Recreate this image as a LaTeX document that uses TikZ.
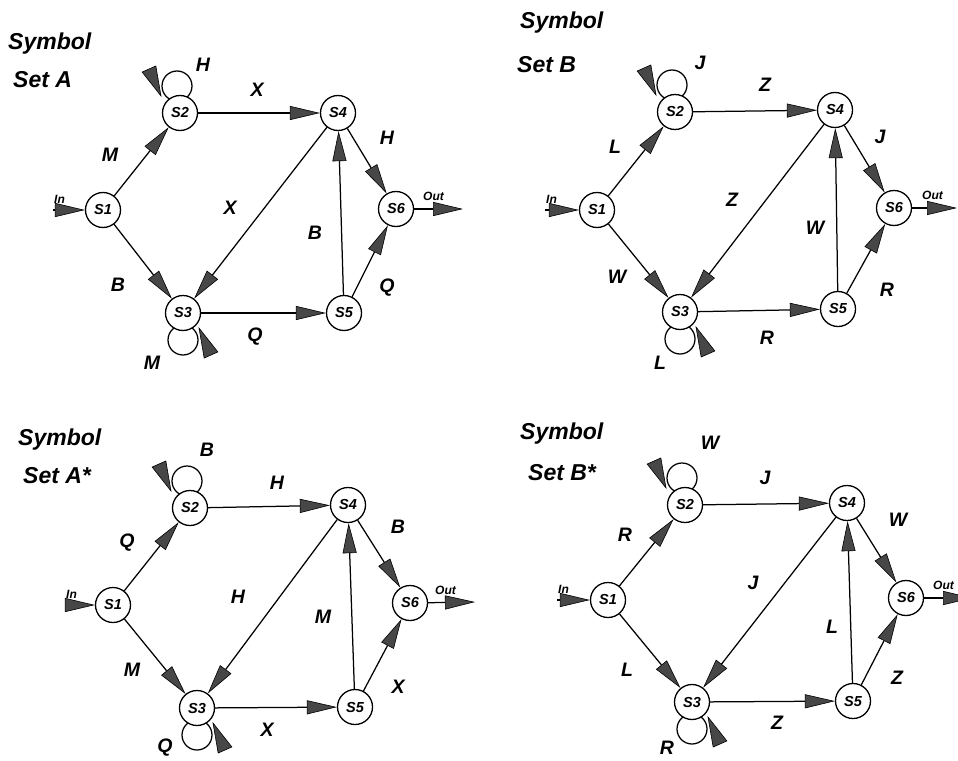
\documentclass[tikz,border=0pt]{standalone}
\usepackage{fontspec}
\setmainfont{Liberation Sans}
\usetikzlibrary{arrows.meta,calc}
\tikzset{
  x=1pt,y=-1pt,
  state/.style={circle,draw,fill=white,line width=1.3pt,minimum size=35pt,inner sep=0pt,font=\fontsize{14.5}{14.5}\selectfont\bfseries\itshape},
  edge/.style={line width=1.25pt,-{Triangle[length=30pt,width=14pt,fill=black!72,line width=0.6pt]}},
  lbl/.style={font=\fontsize{19.5}{19.5}\selectfont\bfseries\itshape,inner sep=0pt},
  ttl/.style={font=\fontsize{23}{23}\selectfont\bfseries\itshape,inner sep=0pt,anchor=base west},
  io/.style={font=\fontsize{12}{12}\selectfont\bfseries\itshape,inner sep=0pt,anchor=base west},
  loopline/.style={line width=1.25pt},
  tri/.style={fill=black!72,draw=black,line width=0.6pt},
}
\newcommand\loopup[1]{%
  \draw[loopline] ($(#1)+(-3,-27)$) circle (15pt);
  \coordinate (#1t) at ($(#1)+(-19,-17)$);
  \coordinate (#1b) at ($(#1)+(-31,-44)$);
  \filldraw[tri] (#1t) -- ($(#1b)!7.5pt!90:(#1t)$) -- ($(#1b)!7.5pt!-90:(#1t)$) -- cycle;}
\newcommand\loopdown[1]{%
  \draw[loopline] ($(#1)+(0,27)$) circle (15pt);
  \coordinate (#1t) at ($(#1)+(16,15)$);
  \coordinate (#1b) at ($(#1)+(28,42)$);
  \filldraw[tri] (#1t) -- ($(#1b)!7.5pt!90:(#1t)$) -- ($(#1b)!7.5pt!-90:(#1t)$) -- cycle;}
\begin{document}
\begin{tikzpicture}
\useasboundingbox (0,0) rectangle (958,760);
\clip (0,0) rectangle (958,760);
\fill[white] (0,0) rectangle (958,760);

% ===== Set A =====
\coordinate (A1c) at (103,210);
\coordinate (A2c) at (180,113);
\coordinate (A3c) at (183,313);
\coordinate (A4c) at (338,113);
\coordinate (A5c) at (344,313);
\coordinate (A6c) at (396,209);
\loopup{A2c}
\loopdown{A3c}
\node[state] (A1) at (A1c) {S1};
\node[state] (A2) at (A2c) {S2};
\node[state] (A3) at (A3c) {S3};
\node[state] (A4) at (A4c) {S4};
\node[state] (A5) at (A5c) {S5};
\node[state] (A6) at (A6c) {S6};
\coordinate (Ain) at (53,210);
\coordinate (Aout) at (463,209);
\draw[edge] (Ain) -- (A1);
\draw[edge] (A1) -- (A2);
\draw[edge] (A1) -- (A3);
\draw[edge] (A2) -- (A4);
\draw[edge] (A4) -- (A3);
\draw[edge] (A3) -- (A5);
\draw[edge] (A5) -- (A4);
\draw[edge] (A4) -- (A6);
\draw[edge] (A5) -- (A6);
\draw[edge] (A6) -- (Aout);
\node[io] (Ainl) at (54,203) {In};
\node[io] (Aoutl) at (423,200) {Out};
\node[ttl] (At1) at (8,50) {Symbol};
\node[ttl] (At2) at (13,88) {Set A};
\node[lbl] (Al1) at (110,155) {M};
\node[lbl] (Al2) at (118,285) {B};
\node[lbl] (Al3) at (257,90) {X};
\node[lbl] (Al4) at (203,65) {H};
\node[lbl] (Al5) at (230,208) {X};
\node[lbl] (Al6) at (387,138) {H};
\node[lbl] (Al7) at (315,233) {B};
\node[lbl] (Al8) at (387,288) {Q};
\node[lbl] (Al9) at (255,337) {Q};
\node[lbl] (Al10) at (152,363) {M};

% ===== Set B =====
\coordinate (B1c) at (597,210);
\coordinate (B2c) at (675,112);
\coordinate (B3c) at (680,312);
\coordinate (B4c) at (835,110);
\coordinate (B5c) at (838,309);
\coordinate (B6c) at (894,208);
\loopup{B2c}
\loopdown{B3c}
\node[state] (B1) at (B1c) {S1};
\node[state] (B2) at (B2c) {S2};
\node[state] (B3) at (B3c) {S3};
\node[state] (B4) at (B4c) {S4};
\node[state] (B5) at (B5c) {S5};
\node[state] (B6) at (B6c) {S6};
\coordinate (Bin) at (545,210);
\coordinate (Bout) at (957,208);
\draw[edge] (Bin) -- (B1);
\draw[edge] (B1) -- (B2);
\draw[edge] (B1) -- (B3);
\draw[edge] (B2) -- (B4);
\draw[edge] (B4) -- (B3);
\draw[edge] (B3) -- (B5);
\draw[edge] (B5) -- (B4);
\draw[edge] (B4) -- (B6);
\draw[edge] (B5) -- (B6);
\draw[edge] (B6) -- (Bout);
\node[io] (Binl) at (546,203) {In};
\node[io] (Boutl) at (922,199) {Out};
\node[ttl] (Bt1) at (520,29) {Symbol};
\node[ttl] (Bt2) at (517,72) {Set B};
\node[lbl] (Bl1) at (615,147) {L};
\node[lbl] (Bl2) at (617,277) {W};
\node[lbl] (Bl3) at (765,85) {Z};
\node[lbl] (Bl4) at (700,63) {J};
\node[lbl] (Bl5) at (732,200) {Z};
\node[lbl] (Bl6) at (880,137) {J};
\node[lbl] (Bl7) at (815,228) {W};
\node[lbl] (Bl8) at (887,290) {R};
\node[lbl] (Bl9) at (767,338) {R};
\node[lbl] (Bl10) at (660,363) {L};

% ===== Set A* =====
\coordinate (C1c) at (113,605);
\coordinate (C2c) at (190,508);
\coordinate (C3c) at (197,708);
\coordinate (C4c) at (348,505);
\coordinate (C5c) at (355,707);
\coordinate (C6c) at (410,603);
\loopup{C2c}
\loopdown{C3c}
\node[state] (C1) at (C1c) {S1};
\node[state] (C2) at (C2c) {S2};
\node[state] (C3) at (C3c) {S3};
\node[state] (C4) at (C4c) {S4};
\node[state] (C5) at (C5c) {S5};
\node[state] (C6) at (C6c) {S6};
\coordinate (Cin) at (65,605);
\coordinate (Cout) at (475,602);
\draw[edge] (Cin) -- (C1);
\draw[edge] (C1) -- (C2);
\draw[edge] (C1) -- (C3);
\draw[edge] (C2) -- (C4);
\draw[edge] (C4) -- (C3);
\draw[edge] (C3) -- (C5);
\draw[edge] (C5) -- (C4);
\draw[edge] (C4) -- (C6);
\draw[edge] (C5) -- (C6);
\draw[edge] (C6) -- (Cout);
\node[io] (Cinl) at (66,598) {In};
\node[io] (Coutl) at (435,594) {Out};
\node[ttl] (Ct1) at (18,445) {Symbol};
\node[ttl] (Ct2) at (23,483) {Set A*};
\node[lbl] (Cl1) at (127,543) {Q};
\node[lbl] (Cl2) at (132,670) {M};
\node[lbl] (Cl3) at (277,483) {H};
\node[lbl] (Cl4) at (207,450) {B};
\node[lbl] (Cl5) at (238,597) {H};
\node[lbl] (Cl6) at (398,527) {B};
\node[lbl] (Cl7) at (323,617) {M};
\node[lbl] (Cl8) at (398,687) {X};
\node[lbl] (Cl9) at (267,730) {X};
\node[lbl] (Cl10) at (165,748) {Q};

% ===== Set B* =====
\coordinate (D1c) at (608,600);
\coordinate (D2c) at (685,505);
\coordinate (D3c) at (692,702);
\coordinate (D4c) at (847,503);
\coordinate (D5c) at (853,701);
\coordinate (D6c) at (906,598);
\loopup{D2c}
\loopdown{D3c}
\node[state] (D1) at (D1c) {S1};
\node[state] (D2) at (D2c) {S2};
\node[state] (D3) at (D3c) {S3};
\node[state] (D4) at (D4c) {S4};
\node[state] (D5) at (D5c) {S5};
\node[state] (D6) at (D6c) {S6};
\coordinate (Din) at (557,600);
\coordinate (Dout) at (973,598);
\draw[edge] (Din) -- (D1);
\draw[edge] (D1) -- (D2);
\draw[edge] (D1) -- (D3);
\draw[edge] (D2) -- (D4);
\draw[edge] (D4) -- (D3);
\draw[edge] (D3) -- (D5);
\draw[edge] (D5) -- (D4);
\draw[edge] (D4) -- (D6);
\draw[edge] (D5) -- (D6);
\draw[edge] (D6) -- (Dout);
\node[io] (Dinl) at (558,593) {In};
\node[io] (Doutl) at (933,589) {Out};
\node[ttl] (Dt1) at (520,439) {Symbol};
\node[ttl] (Dt2) at (528,480) {Set B*};
\node[lbl] (Dl1) at (625,535) {R};
\node[lbl] (Dl2) at (627,670) {L};
\node[lbl] (Dl3) at (765,478) {J};
\node[lbl] (Dl4) at (710,443) {W};
\node[lbl] (Dl5) at (753,583) {J};
\node[lbl] (Dl6) at (898,520) {W};
\node[lbl] (Dl7) at (832,627) {L};
\node[lbl] (Dl8) at (897,678) {Z};
\node[lbl] (Dl9) at (777,723) {Z};
\node[lbl] (Dl10) at (667,748) {R};
\end{tikzpicture}
\end{document}
